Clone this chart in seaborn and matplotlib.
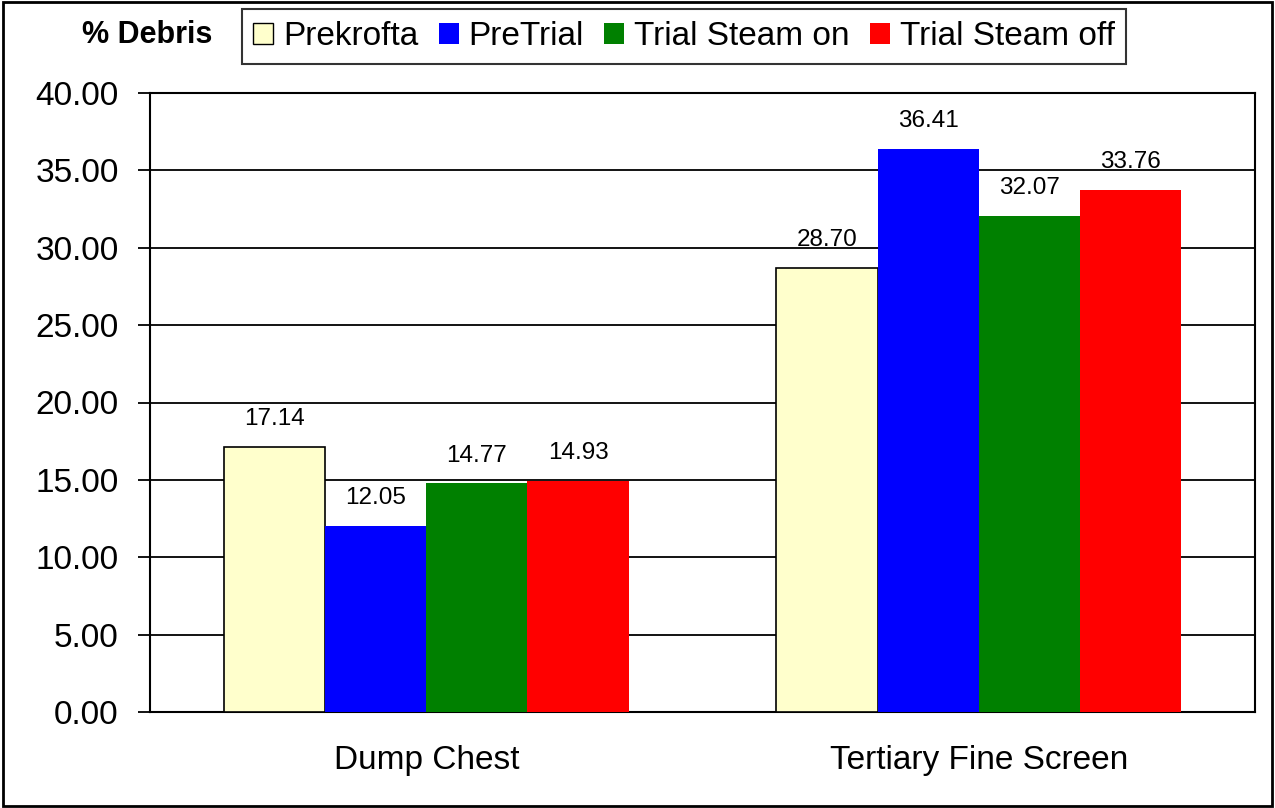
import pandas as pd
import matplotlib
matplotlib.use('Agg')
import matplotlib.pyplot as plt
import seaborn as sns
from matplotlib.patches import Rectangle

# values
categories = ['Dump Chest', 'Tertiary Fine Screen']
series = ['Prekrofta', 'PreTrial', 'Trial Steam on', 'Trial Steam off']
prekrofta = [17.14, 28.70]
pretrial = [12.05, 36.41]
steam_on = [14.77, 32.07]
steam_off = [14.93, 33.76]
colors = ['#FFFFCC', '#0000FF', '#008000', '#FF0000']
yticks = [0, 5, 10, 15, 20, 25, 30, 35, 40]

rows = []
for name, vals in zip(series, [prekrofta, pretrial, steam_on, steam_off]):
    for cat, v in zip(categories, vals):
        rows.append({'Location': cat, 'Series': name, 'Debris': v})
df = pd.DataFrame(rows)

sns.set_style('white')
plt.rcParams['font.family'] = ['Liberation Sans', 'DejaVu Sans']
plt.rcParams['text.color'] = 'black'
plt.rcParams['xtick.color'] = 'black'
plt.rcParams['ytick.color'] = 'black'
plt.rcParams['axes.labelcolor'] = 'black'

fig = plt.figure(figsize=(12.75, 8.08), dpi=100)
ax = fig.add_axes([150 / 1275, 1 - 712 / 808, 1105 / 1275, 619 / 808])

sns.barplot(data=df, x='Location', y='Debris', hue='Series', order=categories,
            hue_order=series, palette=colors, width=0.733, gap=0,
            saturation=1, errorbar=None, ax=ax, zorder=3)

# black outline on the pale bars only
for i, cont in enumerate(ax.containers):
    for bar in cont:
        if i == 0:
            bar.set_edgecolor('black')
            bar.set_linewidth(1.2)
        else:
            bar.set_linewidth(0)
    ax.bar_label(cont, fmt='%.2f', padding=12, fontsize=17.5, color='black')

ax.set_ylim(0, 40)
ax.set_xlim(-0.5, 1.5)
ax.set_yticks(yticks)
ax.set_yticklabels([f'{t:.2f}' for t in yticks], fontsize=24)
ax.set_xticks([0, 1])
ax.set_xticklabels(categories, fontsize=24)
ax.set_xticks([-0.5, 0.5, 1.5], minor=True)
ax.tick_params(axis='x', which='major', length=0, pad=24)
ax.tick_params(axis='x', which='minor', length=7, width=1.3, direction='out', color='black')
ax.tick_params(axis='y', length=8.5, width=1.3, direction='out', color='black', left=True, pad=14)
ax.set_xlabel('')
ax.set_ylabel('')
ax.yaxis.grid(True, color='black', linewidth=1.3, zorder=0)
ax.set_axisbelow(True)
for s in ax.spines.values():
    s.set_visible(True)
    s.set_color('black')
    s.set_linewidth(1.5)

handles, labels = ax.get_legend_handles_labels()
ax.get_legend().remove()
leg = fig.legend(handles, labels, loc='center', bbox_to_anchor=(684 / 1275, 1 - 36.5 / 808),
                 ncol=4, fontsize=24, frameon=True, fancybox=False, edgecolor='black',
                 handlelength=0.6, handleheight=0.6, handletextpad=0.3, columnspacing=0.6,
                 borderpad=0.35, borderaxespad=0)
leg.get_frame().set_linewidth(1.5)
for i, h in enumerate(leg.legend_handles):
    if i == 0:
        h.set_edgecolor('black')
        h.set_linewidth(1)
    else:
        h.set_linewidth(0)

fig.text(147 / 1275, 1 - 35 / 808, '% Debris', ha='center', va='center',
         fontsize=22, fontweight='bold')

fig.patches.append(Rectangle((0.002, 0.003), 0.996, 0.994, transform=fig.transFigure,
                             fill=False, edgecolor='black', linewidth=2))

fig.savefig('out.png', dpi=100, facecolor='white')
